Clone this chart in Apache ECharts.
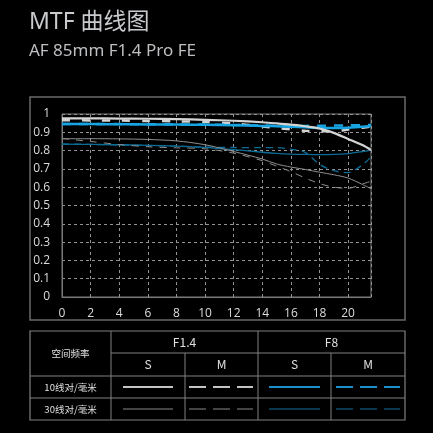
<!DOCTYPE html>
<html>
<head>
<meta charset="utf-8">
<script src="https://cdn.jsdelivr.net/npm/echarts@6/dist/echarts.min.js"></script>
<style>
  html, body { margin: 0; padding: 0; background: #000; }
  #chart { width: 433px; height: 433px; }
</style>
</head>
<body>
<div id="chart"></div>
<script>
// image height positions (mm)
const fieldPos = [0, 2, 4, 6, 8, 10, 12, 14, 15, 16, 17, 18, 19, 20, 21, 21.6];

// 10 lp/mm
const f14Sag10 = [0.976, 0.976, 0.975, 0.974, 0.972, 0.968, 0.963, 0.955, 0.949, 0.942, 0.933, 0.921, 0.897, 0.864, 0.830, 0.803];
const f14Mer10 = [0.966, 0.965, 0.964, 0.962, 0.960, 0.956, 0.948, 0.932, 0.924, 0.916, 0.909, 0.906, 0.906, 0.915, 0.925, 0.932];
const f8Sag10 = [0.945, 0.945, 0.944, 0.943, 0.942, 0.941, 0.939, 0.935, 0.933, 0.930, 0.927, 0.924, 0.923, 0.925, 0.930, 0.935];
const f8Mer10 = [0.946, 0.946, 0.945, 0.944, 0.943, 0.942, 0.940, 0.937, 0.936, 0.935, 0.935, 0.936, 0.937, 0.938, 0.939, 0.940];

// 30 lp/mm
const f14Sag30 = [0.865, 0.865, 0.864, 0.861, 0.853, 0.832, 0.795, 0.754, 0.727, 0.710, 0.697, 0.682, 0.668, 0.650, 0.615, 0.592];
const f14Mer30 = [0.866, 0.850, 0.833, 0.821, 0.815, 0.810, 0.786, 0.745, 0.715, 0.685, 0.650, 0.620, 0.600, 0.594, 0.618, 0.632];
const f8Sag30 = [0.835, 0.834, 0.832, 0.829, 0.825, 0.818, 0.805, 0.791, 0.785, 0.781, 0.779, 0.778, 0.779, 0.784, 0.795, 0.803];
const f8Mer30 = [0.836, 0.834, 0.831, 0.828, 0.824, 0.819, 0.817, 0.816, 0.816, 0.808, 0.790, 0.725, 0.690, 0.680, 0.722, 0.765];

const xTicks = [0, 21.6];
const yTicks = [0, 1];

const colLight = '#d4d4d4';
const colGray = '#8e8e8e';
const colBlue = '#16a4e2';
const colDeep = '#0d6c96';

function pts(ys) {
  return fieldPos.map((x, i) => [x, ys[i]]);
}

function line(name, ys, color, width, dash) {
  return {
    name,
    type: 'line',
    data: pts(ys),
    smooth: 0.3,
    symbol: 'none',
    lineStyle: { color, width, type: dash || 'solid' },
    silent: true,
  };
}

// table geometry
const tL = 30, tR = 405, tT = 331, tB = 420;
const c1 = 111, c2 = 185, c3 = 258, c4 = 331;
const r1 = 353, r2 = 376, r3 = 398;
const tableStroke = { stroke: '#808080', lineWidth: 1 };

function hline(x1, x2, y) {
  return { type: 'line', shape: { x1, y1: y, x2, y2: y }, style: tableStroke };
}
function vline(x, y1, y2) {
  return { type: 'line', shape: { x1: x, y1, x2: x, y2 }, style: tableStroke };
}
function txt(text, x, y, size) {
  return {
    type: 'text', x, y,
    style: {
      text, fill: '#e0e0e0', fontSize: size || 12,
      fontFamily: '"Noto Sans CJK SC", "Open Sans", sans-serif',
      align: 'center', verticalAlign: 'middle',
    },
  };
}
function sample(x1, x2, y, color, width, dashed) {
  return {
    type: 'line', shape: { x1, y1: y, x2, y2: y },
    style: { stroke: color, lineWidth: width, lineDash: dashed ? [17, 7] : null },
  };
}

const graphic = [
  {
    type: 'text', left: 29, top: 11,
    style: { text: 'MTF 曲线图', fill: '#c8cacd', fontSize: 23, fontFamily: '"Noto Sans", "Noto Sans CJK SC", sans-serif' },
  },
  {
    type: 'text', left: 29, top: 43,
    style: { text: 'AF 85mm F1.4 Pro FE', fill: '#bdbfc2', fontSize: 17, fontFamily: '"Noto Sans", sans-serif' },
  },
  // chart frame
  { type: 'rect', shape: { x: 30, y: 97, width: 375, height: 223 }, style: { fill: null, stroke: '#6a6a6a', lineWidth: 1.5 } },
  // table
  { type: 'rect', shape: { x: tL, y: tT, width: tR - tL, height: tB - tT }, style: { fill: null, stroke: '#808080', lineWidth: 1.2 } },
  hline(c1, tR, r1), hline(tL, tR, r2), hline(tL, tR, r3),
  vline(c1, tT, tB), vline(c3, tT, tB), vline(c2, r1, tB), vline(c4, r1, tB),
  txt('空间频率', (tL + c1) / 2, r1, 9.5),
  txt('F1.4', (c1 + c3) / 2, (tT + r1) / 2, 12),
  txt('F8', (c3 + tR) / 2, (tT + r1) / 2, 12),
  txt('S', (c1 + c2) / 2, (r1 + r2) / 2, 12),
  txt('M', (c2 + c3) / 2, (r1 + r2) / 2, 12),
  txt('S', (c3 + c4) / 2, (r1 + r2) / 2, 12),
  txt('M', (c4 + tR) / 2, (r1 + r2) / 2, 12),
  txt('10线对/毫米', (tL + c1) / 2, (r2 + r3) / 2, 9.5),
  txt('30线对/毫米', (tL + c1) / 2, (r3 + tB) / 2, 9.5),
  sample(123, 173, 387, '#c4c4c4', 2, false),
  sample(189, 253, 387, '#c4c4c4', 2, true),
  sample(269, 320, 387, '#1b90c8', 2, false),
  sample(336, 400, 387, '#1b90c8', 2, true),
  sample(123, 173, 409, '#8a8a8a', 1, false),
  sample(189, 253, 409, '#8a8a8a', 1, true),
  sample(269, 320, 409, '#156f95', 1.2, false),
  sample(336, 400, 409, '#156f95', 1.2, true),
];

const chart = echarts.init(document.getElementById('chart'));
chart.setOption({
  backgroundColor: '#000',
  animation: false,
  grid: {
    left: 62, right: 62, top: 114, bottom: 136,
    show: true, borderColor: '#7a7a7a', borderWidth: 1, backgroundColor: 'transparent',
  },
  xAxis: {
    type: 'value', min: xTicks[0], max: xTicks[1], interval: 2,
    axisLine: { show: true, lineStyle: { color: '#7a7a7a' } },
    axisTick: { show: false },
    axisLabel: { color: '#dcdcdc', fontSize: 12, margin: 11, fontFamily: '"Open Sans", sans-serif', showMaxLabel: false },
    splitLine: { show: true, lineStyle: { color: '#939393', type: [3, 3], width: 1 } },
  },
  yAxis: {
    type: 'value', min: yTicks[0], max: yTicks[1], interval: 0.1,
    axisLine: { show: true, lineStyle: { color: '#7a7a7a' } },
    axisTick: { show: false },
    axisLabel: { color: '#dcdcdc', fontSize: 12, margin: 12, fontFamily: '"Open Sans", sans-serif' },
    splitLine: { show: true, lineStyle: { color: '#939393', type: [3, 3], width: 1 } },
  },
  series: [
    line('F8 M 30', f8Mer30, colDeep, 1.3, [7, 5]),
    line('F8 S 30', f8Sag30, colDeep, 1.3),
    line('F1.4 M 30', f14Mer30, colGray, 1, [7, 7]),
    line('F1.4 S 30', f14Sag30, colGray, 1),
    line('F1.4 M 10', f14Mer10, colLight, 2.5, [8, 12]),
    line('F8 S 10', f8Sag10, colBlue, 2.5),
    line('F8 M 10', f8Mer10, colBlue, 2.5, [9, 8]),
    line('F1.4 S 10', f14Sag10, colLight, 2.2),
  ],
  graphic,
});
</script>
</body>
</html>
